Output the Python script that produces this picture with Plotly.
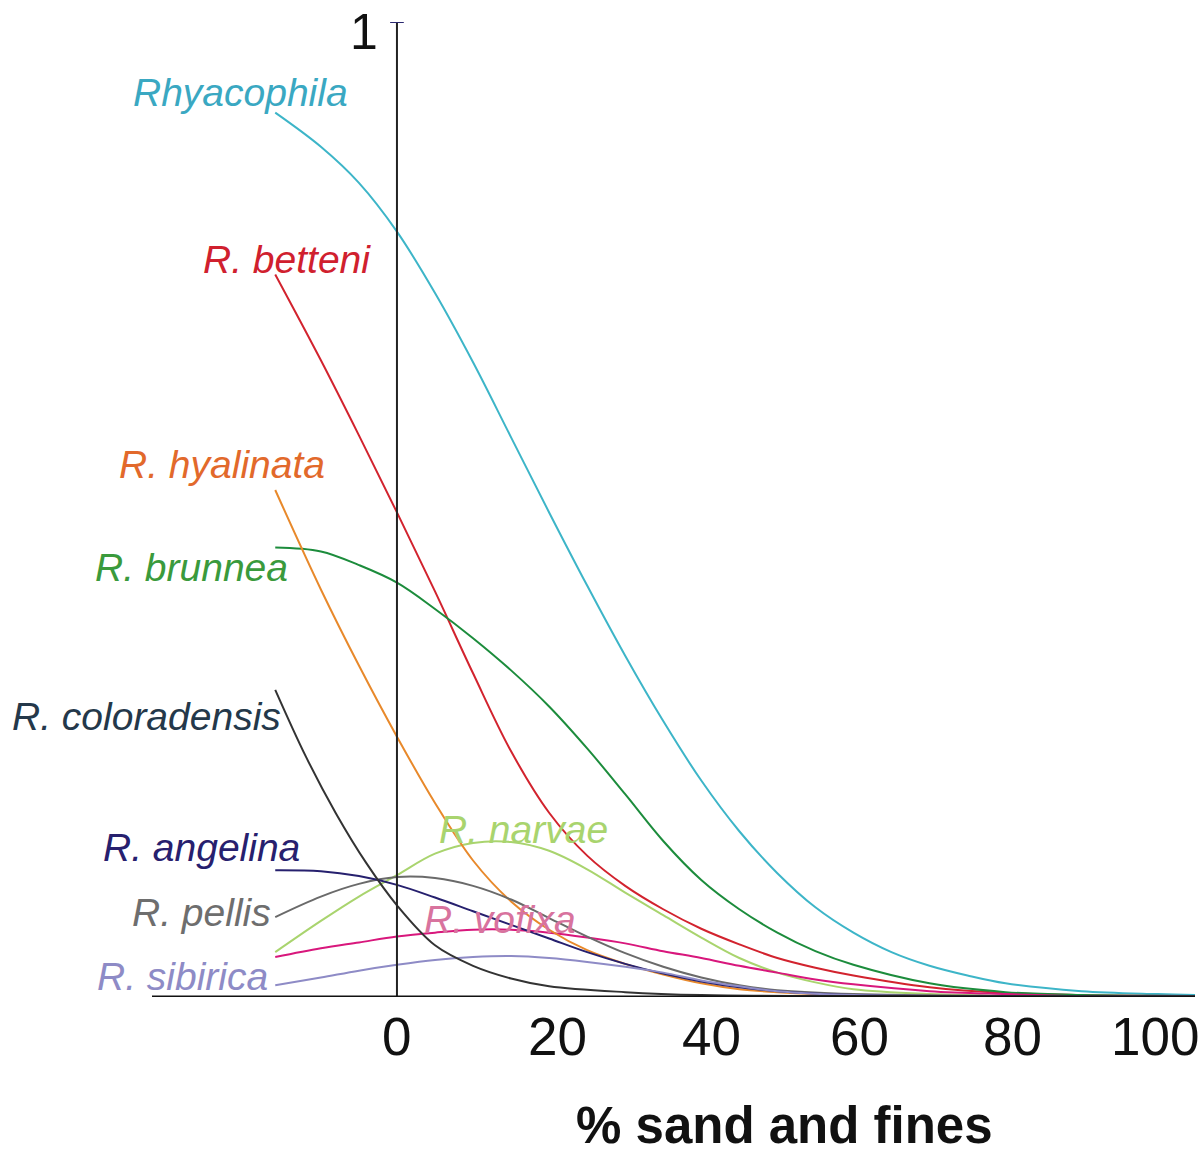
import plotly.graph_objects as go

# Response curves: probability of occurrence vs % sand and fines
x_rhyacophila = [-16, -10, -5, 0, 5, 10, 15, 20, 25, 30, 35, 40, 45, 50, 55, 60, 65, 70, 75, 80, 90, 100, 105]
y_rhyacophila = [0.907, 0.872, 0.835, 0.785, 0.722, 0.651, 0.574, 0.497, 0.422, 0.350, 0.283, 0.222, 0.170,
                 0.127, 0.092, 0.066, 0.046, 0.032, 0.022, 0.014, 0.006, 0.003, 0.002]

x_betteni = [-16, -10, -5, 0, 5, 10, 15, 20, 25, 30, 35, 40, 45, 50, 55, 60, 70, 80, 90, 105]
y_betteni = [0.741, 0.653, 0.576, 0.497, 0.416, 0.332, 0.252, 0.189, 0.145, 0.114, 0.090, 0.070, 0.054,
             0.040, 0.030, 0.022, 0.010, 0.004, 0.002, 0.001]

x_hyalinata = [-16, -10, -5, 0, 5, 10, 15, 20, 25, 30, 35, 40, 45, 50, 60, 80, 105]
y_hyalinata = [0.520, 0.418, 0.340, 0.267, 0.199, 0.140, 0.098, 0.069, 0.048, 0.034, 0.023, 0.014, 0.008,
               0.005, 0.002, 0.001, 0.0005]

x_brunnea = [-16, -10, -5, 0, 5, 10, 15, 20, 25, 30, 35, 40, 45, 50, 55, 60, 70, 80, 90, 105]
y_brunnea = [0.461, 0.457, 0.443, 0.425, 0.398, 0.368, 0.335, 0.298, 0.255, 0.208, 0.160, 0.120, 0.090,
             0.066, 0.047, 0.033, 0.014, 0.005, 0.002, 0.001]

x_coloradensis = [-16, -12, -8, -4, 0, 5, 10, 15, 20, 30, 40, 60, 105]
y_coloradensis = [0.315, 0.247, 0.188, 0.137, 0.094, 0.053, 0.032, 0.019, 0.011, 0.005, 0.002, 0.001, 0.0005]

x_angelina = [-16, -10, -5, 0, 5, 10, 15, 20, 25, 30, 35, 40, 45, 50, 60, 80, 105]
y_angelina = [0.130, 0.129, 0.124, 0.115, 0.102, 0.088, 0.074, 0.060, 0.046, 0.034, 0.024, 0.016, 0.010,
              0.006, 0.002, 0.001, 0.0005]

x_pellis = [-16, -10, -5, 0, 5, 10, 15, 20, 25, 30, 35, 40, 45, 50, 60, 80, 105]
y_pellis = [0.082, 0.103, 0.116, 0.123, 0.122, 0.114, 0.100, 0.081, 0.062, 0.045, 0.031, 0.020, 0.012,
            0.007, 0.003, 0.001, 0.0005]

x_narvae = [-16, -10, -5, 0, 5, 10, 15, 20, 25, 30, 35, 40, 45, 50, 55, 60, 70, 80, 105]
y_narvae = [0.046, 0.078, 0.103, 0.125, 0.147, 0.158, 0.159, 0.150, 0.131, 0.107, 0.084, 0.061, 0.040,
            0.025, 0.015, 0.008, 0.003, 0.001, 0.0005]

x_vofixa = [-16, -10, -5, 0, 5, 10, 15, 20, 25, 30, 35, 40, 45, 50, 55, 60, 70, 80, 90, 105]
y_vofixa = [0.041, 0.050, 0.056, 0.062, 0.066, 0.069, 0.069, 0.066, 0.061, 0.055, 0.047, 0.040, 0.032,
            0.025, 0.018, 0.013, 0.006, 0.003, 0.001, 0.0005]

x_sibirica = [-16, -10, -5, 0, 5, 10, 15, 20, 25, 30, 35, 40, 45, 50, 60, 80, 105]
y_sibirica = [0.012, 0.020, 0.027, 0.033, 0.038, 0.041, 0.042, 0.040, 0.036, 0.031, 0.025, 0.017, 0.011,
              0.006, 0.002, 0.001, 0.0005]

x_ticks = [0, 20, 40, 60, 80, 100]
x_tick_labels = ["0", "20", "40", "60", "80", "100"]

series = [
    ("Rhyacophila", x_rhyacophila, y_rhyacophila, "#3db5c8"),
    ("R. betteni", x_betteni, y_betteni, "#d2232e"),
    ("R. brunnea", x_brunnea, y_brunnea, "#1c8c3c"),
    ("R. narvae", x_narvae, y_narvae, "#a9d46e"),
    ("R. vofixa", x_vofixa, y_vofixa, "#d8177c"),
    ("R. hyalinata", x_hyalinata, y_hyalinata, "#e8892b"),
    ("R. pellis", x_pellis, y_pellis, "#6a6a6a"),
    ("R. angelina", x_angelina, y_angelina, "#26206e"),
    ("R. sibirica", x_sibirica, y_sibirica, "#8e8bc6"),
    ("R. coloradensis", x_coloradensis, y_coloradensis, "#333333"),
]

# Label text, colour, anchor point (data units) and alignment
labels = [
    ("Rhyacophila", "#3aa8c2", -6.2, 0.928, "right"),
    ("R. betteni", "#d0202e", -3.2, 0.756, "right"),
    ("R. hyalinata", "#e2692b", -9.2, 0.546, "right"),
    ("R. brunnea", "#3a9a3c", -14.1, 0.441, "right"),
    ("R. coloradensis", "#24384a", -15.0, 0.288, "right"),
    ("R. angelina", "#27206e", -12.5, 0.153, "right"),
    ("R. pellis", "#6e6e6e", -16.3, 0.087, "right"),
    ("R. sibirica", "#8e8bc6", -16.7, 0.021, "right"),
    ("R. narvae", "#a9d46e", 5.3, 0.172, "left"),
    ("R. vofixa", "#d8739e", 3.3, 0.079, "left"),
]

# Horizontal nudges (px) for the tick numbers along the x axis
tick_shift = [0, 8, 10, 6, 7, -3]

fig = go.Figure()
for name, xs, ys, color in series:
    fig.add_trace(go.Scatter(
        x=xs, y=ys, mode="lines", name=name,
        line=dict(color=color, width=2, shape="spline", smoothing=1.0),
        hoverinfo="skip",
    ))

for text, color, lx, ly, align in labels:
    fig.add_annotation(
        x=lx, y=ly, xref="x", yref="y", text=f"<i>{text}</i>",
        showarrow=False, xanchor=align, yanchor="middle",
        font=dict(family="Liberation Sans, Arial, sans-serif", size=39, color=color),
    )

for tv, tt, dx in zip(x_ticks, x_tick_labels, tick_shift):
    fig.add_annotation(
        x=tv, y=0, xref="x", yref="y", text=tt, showarrow=False,
        xanchor="center", yanchor="middle", xshift=dx, yshift=-39,
        font=dict(family="Liberation Sans, Arial, sans-serif", size=53, color="#111111"),
    )

# Vertical axis drawn at x = 0
fig.add_shape(type="line", x0=0, x1=0, y0=0, y1=1, xref="x", yref="y",
              line=dict(color="#222222", width=2))
fig.add_shape(type="line", x0=-0.9, x1=0.9, y0=1, y1=1, xref="x", yref="y",
              line=dict(color="#2a2870", width=2))
fig.add_annotation(x=-4.3, y=1, xref="x", yref="y", text="1", showarrow=False,
                   xanchor="center", yanchor="top", yshift=20,
                   font=dict(family="Liberation Sans, Arial, sans-serif", size=50, color="#111111"))

# Axis title
fig.add_annotation(x=51, y=0, xref="x", yref="y", text="<b>% sand and fines</b>",
                   showarrow=False, xanchor="center", yanchor="middle", yshift=-128,
                   font=dict(family="Liberation Sans, Arial, sans-serif", size=51, color="#111111"))

fig.update_layout(
    width=1202, height=1155,
    margin=dict(l=152, r=7, t=22, b=158),
    paper_bgcolor="white", plot_bgcolor="white",
    showlegend=False,
    xaxis=dict(range=[-32.2, 104.9], showgrid=False, zeroline=False, showline=False,
               showticklabels=False, ticks=""),
    yaxis=dict(range=[0, 1], showgrid=False, zeroline=False, showline=False,
               showticklabels=False, ticks=""),
)

# Horizontal axis line at y = 0
fig.add_shape(type="line", x0=0, x1=1, y0=0, y1=0, xref="paper", yref="y",
              line=dict(color="#111111", width=3))

fig.write_html("out.html")
